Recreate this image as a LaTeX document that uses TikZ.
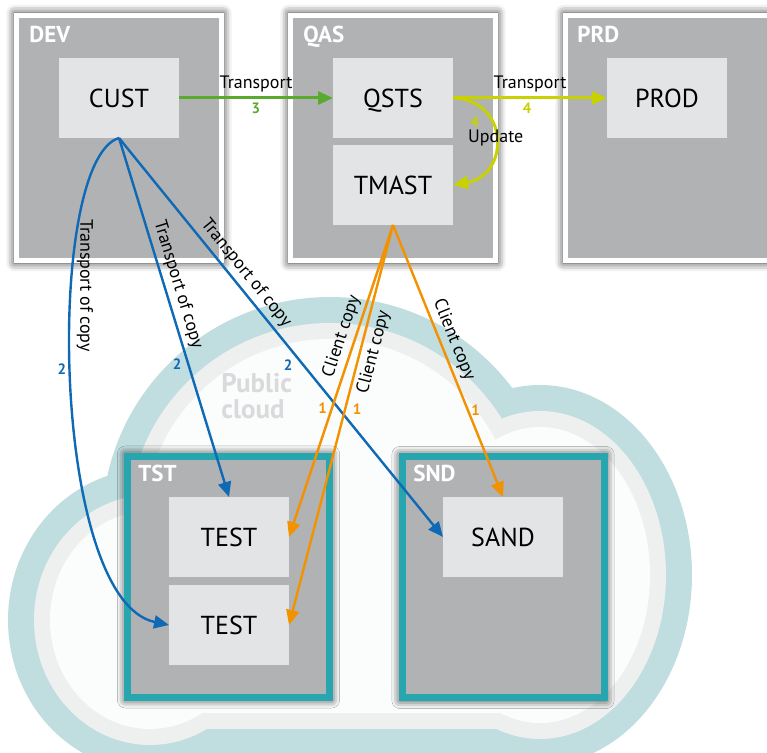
\documentclass[tikz,border=0pt]{standalone}
\usepackage{fontspec}
\setmainfont{PT Sans}
\usetikzlibrary{arrows.meta,positioning,shadows.blur}

\definecolor{envgrey}{HTML}{B1B2B4}
\definecolor{boxgrey}{HTML}{E3E4E6}
\definecolor{tealborder}{HTML}{27A6B0}
\definecolor{cloudteal}{HTML}{C0DDE0}
\definecolor{cloudband}{HTML}{EEF0EF}
\definecolor{cloudwhite}{HTML}{FBFCFC}
\definecolor{cloudtext}{HTML}{D9DADC}
\definecolor{transgreen}{HTML}{5AAB2D}
\definecolor{transyellow}{HTML}{C8D200}
\definecolor{copyblue}{HTML}{0F69B4}
\definecolor{copyorange}{HTML}{F39200}

\tikzset{
    env-box/.style={
        rectangle,
        fill=envgrey,
        draw=white,
        line width=2.5pt,
        minimum width=102.5pt,
        minimum height=122.5pt,
        inner sep=0pt,
        outer sep=0pt,
        blur shadow={shadow xshift=0pt,shadow yshift=0pt,
            shadow scale=1.02,shadow blur radius=4pt,shadow opacity=85}
    },
    cloud-box/.style={
        env-box,
        draw=tealborder,
        line width=3.5pt,
        minimum width=101pt,
        minimum height=120.5pt
    },
    sys-box/.style={
        rectangle,
        fill=boxgrey,
        minimum width=60pt,
        minimum height=40pt,
        text height=9.2pt,
        text depth=0pt,
        inner sep=0pt,
        outer sep=0pt,
        font=\fontsize{13}{15}\selectfont
    },
    env-label/.style={
        anchor=base west,
        inner sep=0pt,
        text=white,
        font=\bfseries\fontsize{11.5}{13}\selectfont
    },
    cloud-text/.style={
        anchor=north west,
        align=left,
        inner sep=0pt,
        text=cloudtext,
        font=\bfseries\fontsize{13.5}{13}\selectfont
    },
    lbl/.style={
        inner sep=2pt,
        font=\fontsize{9}{10}\selectfont
    },
    num/.style={
        inner sep=0pt,
        text=#1,
        font=\bfseries\fontsize{7.5}{8}\selectfont
    },
    trans-line/.style={
        draw=#1,
        line width=1.5pt,
        -{Triangle[length=7.5pt,width=6.5pt]}
    },
    copy-line/.style={
        draw=#1,
        line width=1.2pt,
        -{Triangle[length=7.5pt,width=6.5pt]}
    }
}

\begin{document}
\begin{tikzpicture}[x=0.5pt,y=-0.5pt]
    \useasboundingbox (0,0) rectangle (767,753);

    % cloud
    \foreach \off/\col in {0/cloudteal,26/cloudband,42/cloudwhite}{
        \fill[\col] (330,525) circle[radius={228-\off}];
        \fill[\col] (150,620) ellipse[x radius={142-\off},y radius={151-\off}];
        \fill[\col] (540,575) ellipse[x radius={152-\off},y radius={190-\off}];
        \fill[\col] (150,560) rectangle (520,{755-\off});
    }
    \node[cloud-text] (PUB) at (221,373) {Public\\cloud};

    % systems
    \node[env-box] (DEV) at (119,138) {};
    \node[env-box] (QAS) at (393,138) {};
    \node[env-box] (PRD) at (668,138) {};
    \node[cloud-box] (TST) at (228.5,577) {};
    \node[cloud-box] (SND) at (503,577.5) {};
    \node[env-label] at (29,43) {DEV};
    \node[env-label] at (303,43) {QAS};
    \node[env-label] at (577,43) {PRD};
    \node[env-label] at (138,482) {TST};
    \node[env-label] at (413,482) {SND};

    % clients
    \node[sys-box] (CUST) at (119,98) {CUST};
    \node[sys-box] (QSTS) at (393,98) {QSTS};
    \node[sys-box,below=3.5pt of QSTS] (TMAST) {TMAST};
    \node[sys-box] (PROD) at (667,98) {PROD};
    \node[sys-box] (TEST1) at (229,537) {TEST};
    \node[sys-box,below=4pt of TEST1] (TEST2) {TEST};
    \node[sys-box] (SAND) at (503,537) {SAND};

    % transports
    \draw[trans-line=transgreen] (CUST) -- node[lbl,above]{Transport}
        node[num=transgreen,yshift=-5pt]{3} (QSTS);
    \draw[trans-line=transyellow] (QSTS) -- node[lbl,above]{Transport}
        node[num=transyellow,xshift=-1.5pt,yshift=-5pt]{4} (PROD);
    \draw[trans-line=transyellow] (QSTS.east) .. controls (510,100) and (510,175) ..
        node[num=transyellow,pos=.3,xshift=-7pt,yshift=-3pt]{4}
        node[lbl,pos=.5]{Update} (TMAST.east);

    % transports of copies
    \draw[copy-line=copyblue] (CUST.south) .. controls (45,160) and (50,600) ..
        node[lbl,pos=.36,above,rotate=-90]{Transport of copy}
        node[num=copyblue,pos=.48,xshift=-4.5pt,yshift=-1.5pt]{2} (TEST2.west);
    \draw[copy-line=copyblue] (CUST.south) --
        node[lbl,pos=.42,sloped,above]{Transport of copy}
        node[num=copyblue,pos=.62,xshift=-5pt,yshift=-2pt]{2} (TEST1.north);
    \draw[copy-line=copyblue] (CUST.south) --
        node[lbl,pos=.36,sloped,above]{Transport of copy}
        node[num=copyblue,pos=.55,xshift=-4.5pt,yshift=-3.75pt]{2} (SAND.west);

    % client copies
    \draw[copy-line=copyorange] (TMAST.south) --
        node[lbl,pos=.37,sloped,above]{Client copy}
        node[num=copyorange,pos=.6,xshift=-4pt,yshift=1.8pt]{1} (TEST1.east);
    \draw[copy-line=copyorange] (TMAST.south) --
        node[lbl,pos=.31,sloped,below]{Client copy}
        node[num=copyorange,pos=.45,xshift=5.5pt,yshift=-2pt]{1} (TEST2.east);
    \draw[copy-line=copyorange] (TMAST.south) --
        node[lbl,pos=.44,sloped,above]{Client copy}
        node[num=copyorange,pos=.69,xshift=3.4pt,yshift=1.2pt]{1} (SAND.north);
\end{tikzpicture}
\end{document}
